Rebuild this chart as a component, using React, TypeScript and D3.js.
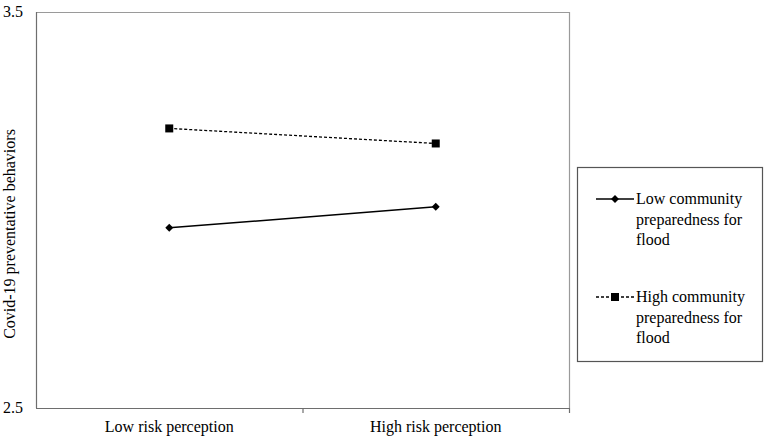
import React, { useEffect, useRef } from 'react';
import * as d3 from 'd3';

const categories = ['Low risk perception', 'High risk perception'];
const lowPrepValues = [2.955, 3.008];
const highPrepValues = [3.206, 3.168];
const yTicks = [2.5, 3.5];
const seriesNames = [
  ['Low community', 'preparedness for', 'flood'],
  ['High community', 'preparedness for', 'flood'],
];
const yLabel = 'Covid-19 preventative behaviors';

const FONT = 'Times New Roman, Liberation Serif, Tinos, serif';

export default function App() {
  const svgRef = useRef<SVGSVGElement>(null);

  useEffect(() => {
    if (!svgRef.current) return;
    const svg = d3.select(svgRef.current);
    svg.selectAll('*').remove();

    const left = 36;
    const right = 569;
    const top = 12;
    const bottom = 408;

    const x = d3.scalePoint<string>().domain(categories).range([left, right]).padding(0.5);
    const y = d3.scaleLinear().domain([2.5, 3.5]).range([bottom, top]);
    const step = x.step();

    // frame (top and right)
    svg.append('path')
      .attr('d', `M${left},${top + 0.5}H${right + 0.5}V${bottom}`)
      .attr('fill', 'none')
      .attr('stroke', '#9a9a9a')
      .attr('stroke-width', 1.2);

    // y axis line
    svg.append('line')
      .attr('x1', left + 0.5).attr('x2', left + 0.5)
      .attr('y1', top).attr('y2', bottom)
      .attr('stroke', '#6e6e6e')
      .attr('stroke-width', 1.2);

    // x axis line + ticks between categories
    svg.append('line')
      .attr('x1', left).attr('x2', right + 0.5)
      .attr('y1', bottom + 0.5).attr('y2', bottom + 0.5)
      .attr('stroke', '#6e6e6e')
      .attr('stroke-width', 1.2);

    const tickXs = categories.map(c => (x(c) as number) + step / 2);
    svg.selectAll('.xtick')
      .data(tickXs)
      .enter().append('line')
      .attr('x1', d => d + 0.5).attr('x2', d => d + 0.5)
      .attr('y1', bottom).attr('y2', bottom + 5)
      .attr('stroke', '#6e6e6e')
      .attr('stroke-width', 1.2);

    const texts = svg.append('g')
      .attr('font-family', FONT)
      .attr('font-size', 16)
      .attr('fill', '#000');

    // y tick labels
    texts.selectAll('.ytl')
      .data(yTicks)
      .enter().append('text')
      .attr('x', 23)
      .attr('y', d => y(d) + 5)
      .attr('text-anchor', 'end')
      .text(d => d.toFixed(1));

    // x category labels
    texts.selectAll('.xtl')
      .data(categories)
      .enter().append('text')
      .attr('x', d => x(d) as number)
      .attr('y', 432)
      .attr('text-anchor', 'middle')
      .text(d => d);

    // y axis title
    texts.append('text')
      .attr('transform', 'translate(15,234) rotate(-90)')
      .attr('text-anchor', 'middle')
      .text(yLabel);

    const line = d3.line<number>()
      .x((_, i) => x(categories[i]) as number)
      .y(d => y(d));

    const diamond = d3.symbol().type(d3.symbolDiamond2).size(40);
    const square = d3.symbol().type(d3.symbolSquare).size(64);

    // low preparedness - solid
    svg.append('path')
      .datum(lowPrepValues)
      .attr('fill', 'none')
      .attr('stroke', '#000')
      .attr('stroke-width', 1.5)
      .attr('d', line);
    svg.selectAll('.lowpt')
      .data(lowPrepValues)
      .enter().append('path')
      .attr('transform', (d, i) => `translate(${x(categories[i])},${y(d)})`)
      .attr('d', diamond)
      .attr('fill', '#000');

    // high preparedness - dashed
    svg.append('path')
      .datum(highPrepValues)
      .attr('fill', 'none')
      .attr('stroke', '#000')
      .attr('stroke-width', 1.3)
      .attr('stroke-dasharray', '3,2')
      .attr('d', line);
    svg.selectAll('.highpt')
      .data(highPrepValues)
      .enter().append('path')
      .attr('transform', (d, i) => `translate(${x(categories[i])},${y(d)})`)
      .attr('d', square)
      .attr('fill', '#000');

    // legend
    const legend = svg.append('g');
    legend.append('rect')
      .attr('x', 577.5).attr('y', 167.5)
      .attr('width', 185).attr('height', 194)
      .attr('fill', '#fff')
      .attr('stroke', '#555')
      .attr('stroke-width', 1.2);

    const entries = [
      { y0: 199, dash: null as string | null, sym: diamond, lines: seriesNames[0] },
      { y0: 297, dash: '3,2', sym: square, lines: seriesNames[1] },
    ];
    entries.forEach(e => {
      legend.append('line')
        .attr('x1', 596).attr('x2', 634)
        .attr('y1', e.y0).attr('y2', e.y0)
        .attr('stroke', '#000')
        .attr('stroke-width', e.dash ? 1.3 : 1.5)
        .attr('stroke-dasharray', e.dash);
      legend.append('path')
        .attr('transform', `translate(615,${e.y0})`)
        .attr('d', e.sym)
        .attr('fill', '#000');
      const t = legend.append('text')
        .attr('font-family', FONT)
        .attr('font-size', 16)
        .attr('fill', '#000');
      e.lines.forEach((s, i) => {
        t.append('tspan')
          .attr('x', 636)
          .attr('y', e.y0 + 5 + i * 20.5)
          .text(s);
      });
    });
  }, []);

  return (
    <div style={{ position: 'fixed', left: 0, top: 0, background: '#fff' }}>
      <svg ref={svgRef} width={765} height={438} style={{ display: 'block' }} />
    </div>
  );
}
